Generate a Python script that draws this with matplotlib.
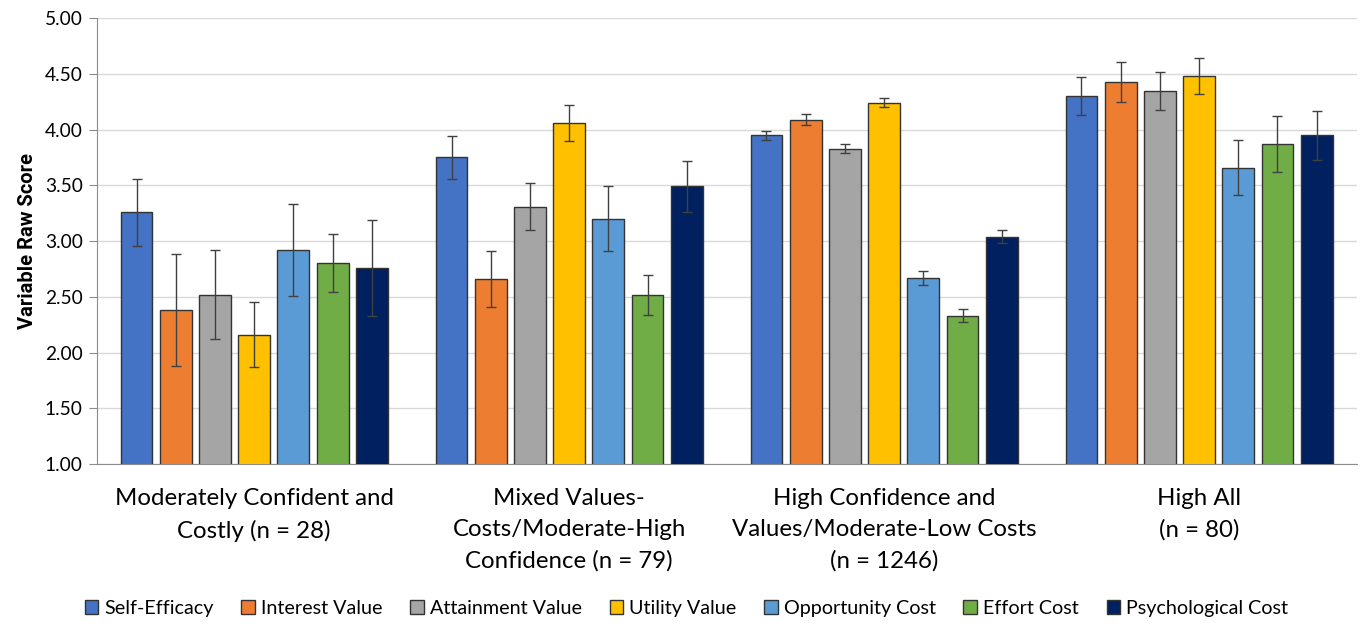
import numpy as np
import matplotlib.pyplot as plt

plt.rcParams['font.family'] = ['Lato', 'DejaVu Sans']

groups = ['Moderately Confident and\nCostly (n = 28)',
          'Mixed Values-\nCosts/Moderate-High\nConfidence (n = 79)',
          'High Confidence and\nValues/Moderate-Low Costs\n(n = 1246)',
          'High All\n(n = 80)']
series = ['Self-Efficacy', 'Interest Value', 'Attainment Value', 'Utility Value',
          'Opportunity Cost', 'Effort Cost', 'Psychological Cost']
colors = ['#4472C4', '#ED7D31', '#A5A5A5', '#FFC000', '#5B9BD5', '#70AD47', '#002060']

# rows = series, columns = groups
means = [
    [3.26, 3.75, 3.95, 4.30],
    [2.38, 2.66, 4.09, 4.43],
    [2.52, 3.31, 3.83, 4.35],
    [2.16, 4.06, 4.24, 4.48],
    [2.92, 3.20, 2.67, 3.66],
    [2.80, 2.52, 2.33, 3.87],
    [2.76, 3.49, 3.04, 3.95],
]
errors = [
    [0.30, 0.19, 0.04, 0.17],
    [0.50, 0.25, 0.05, 0.18],
    [0.40, 0.21, 0.04, 0.17],
    [0.29, 0.16, 0.04, 0.16],
    [0.41, 0.29, 0.06, 0.25],
    [0.26, 0.18, 0.06, 0.25],
    [0.43, 0.23, 0.06, 0.22],
]

fig = plt.figure(figsize=(13.62, 6.27), dpi=100)
ax = fig.add_axes([0.071, 0.26, 0.925, 0.711])

x = np.arange(len(groups))
width = 0.101
pitch = 0.1245
for i, name in enumerate(series):
    pos = x + (i - 3) * pitch
    ax.bar(pos, means[i], width, bottom=0, color=colors[i], edgecolor='#333333',
           linewidth=1.0, label=name, zorder=3)
    ax.errorbar(pos, means[i], yerr=errors[i], fmt='none', ecolor='#404040',
                elinewidth=1.0, capsize=3.3, capthick=1.0, zorder=4)

ax.set_ylim(1.0, 5.0)
ax.set_xlim(-0.5, 3.5)
ax.set_yticks(np.arange(1.0, 5.01, 0.5))
ax.set_yticklabels(['%.2f' % v for v in np.arange(1.0, 5.01, 0.5)], fontsize=13.8)
ax.set_xticks(x)
ax.set_xticklabels(groups, fontsize=17.3, linespacing=1.6)
ax.tick_params(axis='x', length=0, pad=17)
ax.tick_params(axis='y', length=6, color='#8c8c8c', pad=4)
ax.yaxis.grid(True, color='#d9d9d9', linewidth=1.0, zorder=0)
ax.set_axisbelow(True)
for s in ['top', 'right']:
    ax.spines[s].set_visible(False)
ax.spines['left'].set_color('#8c8c8c')
ax.spines['bottom'].set_color('#8c8c8c')
ax.set_ylabel('Variable Raw Score', fontsize=14.5, fontweight='bold',
              family=['Roboto', 'DejaVu Sans'], labelpad=6)

fig.legend(loc='lower center', bbox_to_anchor=(0.504, -0.012), ncol=7, frameon=False,
           fontsize=14.2, handlelength=0.7, handleheight=0.7, handletextpad=0.3,
           columnspacing=1.4)

fig.savefig('out.png', dpi=100)
